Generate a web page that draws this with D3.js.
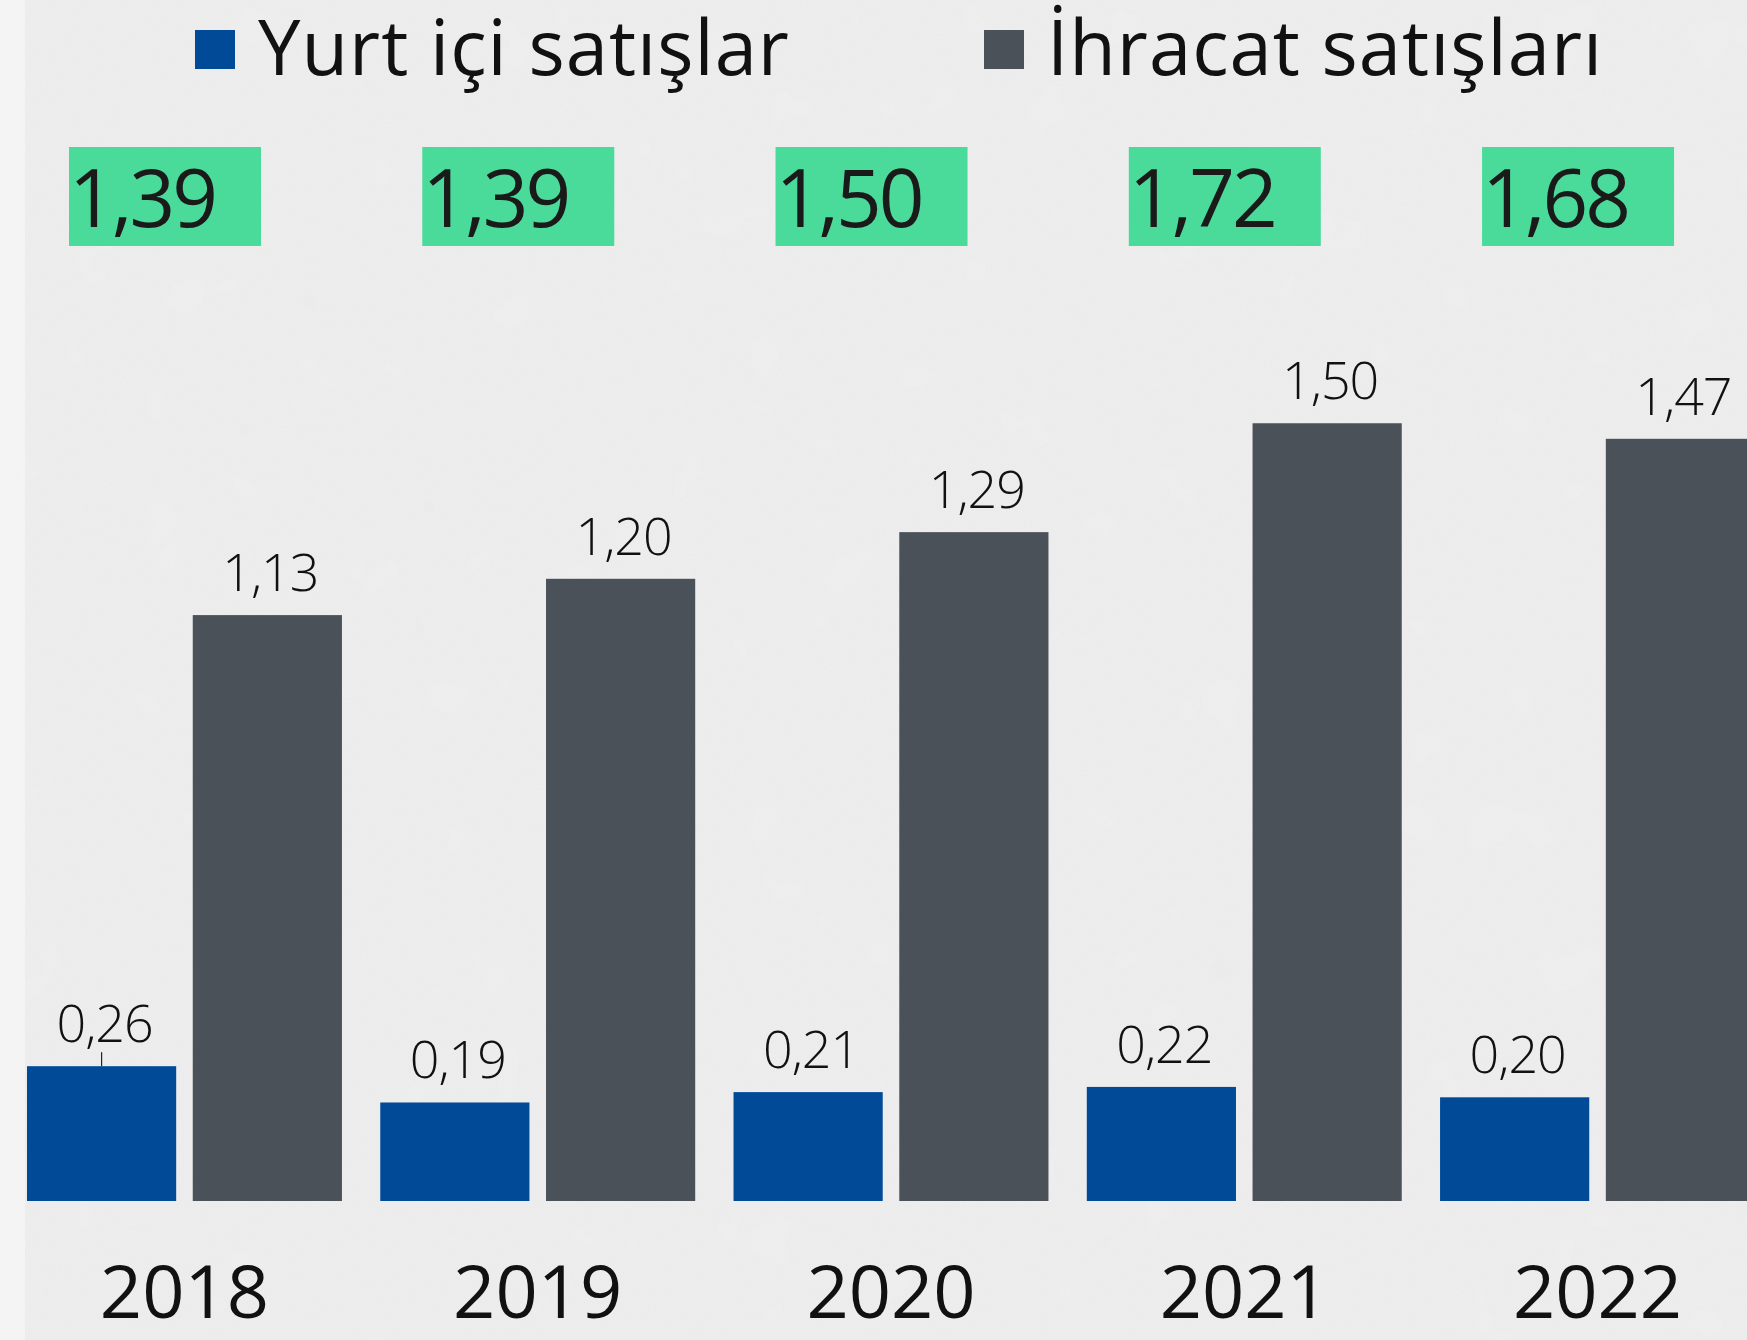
<!DOCTYPE html>
<html>
<head>
<meta charset="utf-8">
<script src="https://cdn.jsdelivr.net/npm/d3@7"></script>
<style>
  html, body { margin: 0; padding: 0; background: #efefef; }
  svg { display: block; }
</style>
</head>
<body>
<svg id="chart"></svg>
<script>
// data
var years = ["2018", "2019", "2020", "2021", "2022"];
var seriesNames = ["Yurt içi satışlar", "İhracat satışları"];
var domestic = [0.26, 0.19, 0.21, 0.22, 0.20];
var exportSales = [1.13, 1.20, 1.29, 1.50, 1.47];
var totals = [1.39, 1.39, 1.50, 1.72, 1.68];

var width = 1747, height = 1340;
var colors = ["#004a98", "#4b5159"];
var font = "'Open Sans', 'Noto Sans', sans-serif";

var svg = d3.select("#chart")
    .attr("width", width)
    .attr("height", height);

// paper background
var defs = svg.append("defs");
var f = defs.append("filter").attr("id", "paper")
    .attr("x", 0).attr("y", 0).attr("width", "100%").attr("height", "100%");
f.append("feTurbulence").attr("type", "fractalNoise")
    .attr("baseFrequency", 0.7).attr("numOctaves", 2).attr("seed", 3).attr("result", "fine");
f.append("feColorMatrix").attr("in", "fine").attr("type", "matrix")
    .attr("values", "0 0 0 0 0.55  0 0 0 0 0.55  0 0 0 0 0.55  0 0 0 0.12 0");
var f2 = defs.append("filter").attr("id", "blotch")
    .attr("x", 0).attr("y", 0).attr("width", "100%").attr("height", "100%");
f2.append("feTurbulence").attr("type", "fractalNoise")
    .attr("baseFrequency", 0.015).attr("numOctaves", 3).attr("seed", 7);
f2.append("feColorMatrix").attr("type", "matrix")
    .attr("values", "0 0 0 0 0.7  0 0 0 0 0.7  0 0 0 0 0.7  0 0 0 0.08 0");

svg.append("rect").attr("width", width).attr("height", height).attr("fill", "#f0f0f0");
svg.append("rect").attr("width", width).attr("height", height).attr("filter", "url(#blotch)");
svg.append("rect").attr("width", width).attr("height", height).attr("filter", "url(#paper)");
svg.append("rect").attr("width", 25).attr("height", height).attr("fill", "#f6f6f6").attr("opacity", 0.75);

// scales
var x0 = d3.scaleBand()
    .domain(years)
    .range([27, 1755])
    .paddingInner(0.1085)
    .paddingOuter(0);

var x1 = d3.scaleBand()
    .domain([0, 1])
    .range([0, x0.bandwidth()])
    .paddingInner(0.1);

var y = d3.scaleLinear()
    .domain([0, 2])
    .range([1201, 1201 - 1037]);

var fmt = function(v) { return d3.format(".2f")(v).replace(".", ","); };

var rows = years.map(function(yr, i) {
  return { year: yr, values: [domestic[i], exportSales[i]], total: totals[i] };
});

// bars
var groups = svg.selectAll("g.year")
    .data(rows)
    .enter().append("g")
    .attr("class", "year")
    .attr("transform", function(d) { return "translate(" + x0(d.year) + ",0)"; });

groups.selectAll("rect")
    .data(function(d) { return d.values.map(function(v, k) { return { k: k, v: v }; }); })
    .enter().append("rect")
    .attr("x", function(d) { return x1(d.k); })
    .attr("y", function(d) { return y(d.v); })
    .attr("width", x1.bandwidth())
    .attr("height", function(d) { return y(0) - y(d.v); })
    .attr("fill", function(d) { return colors[d.k]; });

groups.selectAll("text.val")
    .data(function(d) { return d.values.map(function(v, k) { return { k: k, v: v }; }); })
    .enter().append("text")
    .attr("class", "val")
    .attr("x", function(d) { return x1(d.k) + x1.bandwidth() / 2 + 3; })
    .attr("y", function(d) { return y(d.v) - 24; })
    .attr("text-anchor", "middle")
    .attr("font-family", font)
    .attr("font-weight", 300)
    .attr("font-size", 52)
    .attr("letter-spacing", -1)
    .attr("fill", "#111")
    .text(function(d) { return fmt(d.v); });

// small leader under the first domestic label
svg.append("line")
    .attr("x1", x0(years[0]) + x1.bandwidth() / 2)
    .attr("x2", x0(years[0]) + x1.bandwidth() / 2)
    .attr("y1", y(domestic[0]) - 14)
    .attr("y2", y(domestic[0]))
    .attr("stroke", "#222").attr("stroke-width", 1.2);

// year labels
svg.selectAll("text.yr")
    .data(years)
    .enter().append("text")
    .attr("class", "yr")
    .attr("x", function(d) { return x0(d) + x0.bandwidth() / 2; })
    .attr("y", 1318)
    .attr("text-anchor", "middle")
    .attr("font-family", font)
    .attr("font-size", 74)
    .attr("fill", "#111")
    .text(function(d) { return d; });

// totals in green boxes
var tot = svg.selectAll("g.tot")
    .data(rows)
    .enter().append("g")
    .attr("class", "tot")
    .attr("transform", function(d) { return "translate(" + (x0(d.year) + 42) + ",147)"; });

tot.append("rect")
    .attr("width", 192)
    .attr("height", 99)
    .attr("fill", "#4adb9b");

tot.append("text")
    .attr("x", 0)
    .attr("y", 80)
    .attr("font-family", font)
    .attr("font-size", 80)
    .attr("letter-spacing", -3)
    .attr("fill", "#1a1a1a")
    .text(function(d) { return fmt(d.total); });

// legend
var legendX = [195, 984];
var legend = svg.selectAll("g.leg")
    .data(seriesNames)
    .enter().append("g")
    .attr("class", "leg")
    .attr("transform", function(d, i) { return "translate(" + legendX[i] + ",30)"; });

legend.append("rect")
    .attr("width", 40).attr("height", 39)
    .attr("fill", function(d, i) { return colors[i]; });

legend.append("text")
    .attr("x", 63)
    .attr("y", 45)
    .attr("font-family", font)
    .attr("font-size", 76)
    .attr("letter-spacing", 1)
    .attr("fill", "#111")
    .text(function(d) { return d; });
</script>
</body>
</html>
